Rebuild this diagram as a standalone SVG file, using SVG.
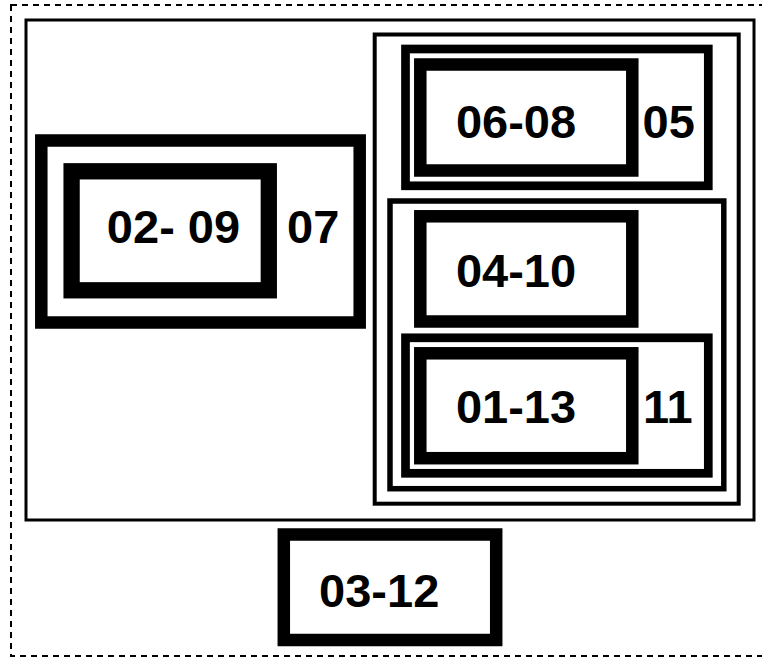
<svg xmlns="http://www.w3.org/2000/svg" width="762" height="660" viewBox="0 0 762 660">
<style>
rect{fill:none;stroke:#000}
text{font-family:"Liberation Sans",Arial,sans-serif;font-weight:bold;font-size:47px;fill:#000}
.m{text-anchor:middle}
</style>
<rect width="762" height="660" style="fill:#fff;stroke:none"/>
<g id="frame">
<rect x="11" y="5" width="760" height="651" stroke-width="2" stroke-dasharray="6,5"/>
<rect x="26" y="20" width="728" height="500" stroke-width="3"/>
</g>
<g id="n07">
<rect x="41.3" y="140.5" width="318.4" height="182" stroke-width="12.5"/>
<text x="287" y="242.7">07</text>
</g>
<g id="n02-09">
<rect x="71.6" y="171.3" width="197.2" height="119" stroke-width="16.3"/>
<text class="m" x="173.5" y="242.7">02- 09</text>
</g>
<g id="panel">
<rect x="374.7" y="34.5" width="364" height="469.2" stroke-width="4"/>
</g>
<g id="n05">
<rect x="405.5" y="49" width="302.8" height="136.8" stroke-width="8.7"/>
<text x="642.5" y="137.7">05</text>
</g>
<g id="n06-08">
<rect x="420.3" y="64.5" width="212" height="106" stroke-width="12.5"/>
<text class="m" x="516" y="137.7">06-08</text>
</g>
<g id="group">
<rect x="390" y="201" width="333.8" height="287.7" stroke-width="5.5"/>
</g>
<g id="n04-10">
<rect x="420.3" y="216.3" width="212" height="105.2" stroke-width="12.5"/>
<text class="m" x="516" y="287.3">04-10</text>
</g>
<g id="n11">
<rect x="405.5" y="337.8" width="302.8" height="135.5" stroke-width="8.7"/>
<text x="643" y="423.3">11</text>
</g>
<g id="n01-13">
<rect x="420.3" y="353.3" width="212" height="104.9" stroke-width="12.5"/>
<text class="m" x="516" y="423.3">01-13</text>
</g>
<g id="n03-12">
<rect x="283.8" y="534.5" width="212.4" height="105.5" stroke-width="12.5"/>
<text class="m" x="379.2" y="606.7">03-12</text>
</g>
<g id="connectors"/>
</svg>
